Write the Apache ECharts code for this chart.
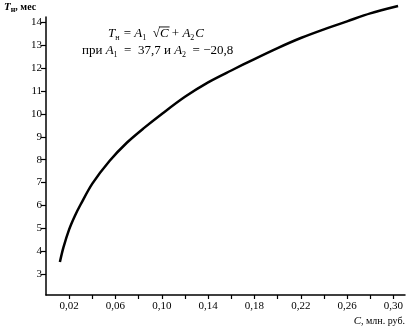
<!DOCTYPE html>
<html><head><meta charset="utf-8">
<script src="https://cdn.jsdelivr.net/npm/echarts@6/dist/echarts.min.js"></script>
<style>html,body{margin:0;padding:0;background:#fff}#c{width:411px;height:331px}</style>
</head><body><div id="c"></div>
<script>
// Values
const costC = [0.012, 0.015, 0.02, 0.025, 0.03, 0.04, 0.055, 0.07, 0.085, 0.10, 0.12, 0.14, 0.16, 0.18, 0.20, 0.22, 0.24, 0.26, 0.28, 0.304];
const termT = [3.52, 4.15, 4.95, 5.55, 6.05, 6.95, 7.95, 8.75, 9.40, 10.00, 10.75, 11.38, 11.90, 12.40, 12.88, 13.32, 13.70, 14.05, 14.40, 14.72];
const xTickValues = [0.02,0.04,0.06,0.08,0.10,0.12,0.14,0.16,0.18,0.20,0.22,0.24,0.26,0.28,0.30];
const xLabelValues = [0.02,0.06,0.10,0.14,0.18,0.22,0.26,0.30];
const yTickValues = [3,4,5,6,7,8,9,10,11,12,13,14];

const font = 'Liberation Serif';
const ctx = document.createElement('canvas').getContext('2d');
function layout(pieces, x0, base, size){
  const els = []; let x = x0;
  pieces.forEach(p=>{
    const fs = p.sub ? Math.round(size*0.65) : size;
    const style = (p.it ? 'italic ' : '') + fs + 'px "' + font + '"';
    ctx.font = style;
    const w = ctx.measureText(p.t).width;
    const top = p.sub ? base - fs*0.8 + 3 : base - fs*0.8;
    els.push({type:'text', x:x, y:top, silent:true,
      style:{text:p.t, font:style, fill:'#000', verticalAlign:'top', align:'left'}});
    if (p.over) els.push({type:'line', silent:true, shape:{x1:x-1, y1:base-size*0.62-2, x2:x+w+1, y2:base-size*0.62-2}, style:{stroke:'#000', lineWidth:0.9}});
    x += w + (p.gap||0);
  });
  return els;
}
const line1 = layout([
  {t:'T',it:1},{t:'н',sub:1,gap:1},{t:' = '},{t:'A',it:1},{t:'1',sub:1},{t:'  '},{t:'√'},{t:'C',it:1,over:1},{t:' + '},{t:'A',it:1},{t:'2',sub:1,gap:1},{t:'C',it:1}
], 108, 37, 13);
const line2 = layout([
  {t:'при '},{t:'A',it:1},{t:'1',sub:1},{t:'  =  37,7 и '},{t:'A',it:1},{t:'2',sub:1},{t:'  = −20,8'}
], 82, 54, 13);

const chart = echarts.init(document.getElementById('c'), null, {renderer:'canvas'});
chart.setOption({
  animation:false,
  backgroundColor:'#fff',
  grid:{left:46, top:17, width:359, height:278, outerBoundsMode:'none'},
  xAxis:{
    type:'value', min:0, max:0.31,
    axisLine:{show:true, onZero:false, lineStyle:{color:'#000', width:1.5}},
    axisTick:{show:true, customValues:xTickValues, length:4, lineStyle:{color:'#000', width:1.2}},
    axisLabel:{show:true, customValues:xLabelValues, color:'#000', fontFamily:font, fontSize:11, margin:6,
      formatter:v=>v.toFixed(2).replace('.',',')},
    splitLine:{show:false}
  },
  yAxis:{
    type:'value', min:2.08, max:14.24,
    axisLine:{show:true, onZero:false, lineStyle:{color:'#000', width:1.5}},
    axisTick:{show:true, customValues:yTickValues, length:5, lineStyle:{color:'#000', width:1.2}},
    axisLabel:{show:true, customValues:yTickValues, color:'#000', fontFamily:font, fontSize:11, margin:4},
    splitLine:{show:false}
  },
  series:[{
    type:'line', smooth:0.3, showSymbol:false, clip:false,
    data:costC.map((c,i)=>[c, termT[i]]),
    lineStyle:{color:'#000', width:2.5}
  }],
  graphic:[
    {type:'text', left:4, top:2, style:{
      text:'{i|T}{s|н}{n|, мес}', rich:{
        i:{fontFamily:font, fontStyle:'italic', fontWeight:'bold', fontSize:11, fill:'#000'},
        s:{fontFamily:font, fontWeight:'bold', fontSize:8, fill:'#000', padding:[5,0,0,0]},
        n:{fontFamily:font, fontWeight:'bold', fontSize:10, fill:'#000'}}}},
    ...line1, ...line2,
    {type:'text', right:6, top:316, style:{
      text:'{i|C}{n|, млн. руб.}', rich:{
        i:{fontFamily:font, fontStyle:'italic', fontSize:11, fill:'#000'},
        n:{fontFamily:font, fontSize:10, fill:'#000'}}}}
  ]
});
</script></body></html>
